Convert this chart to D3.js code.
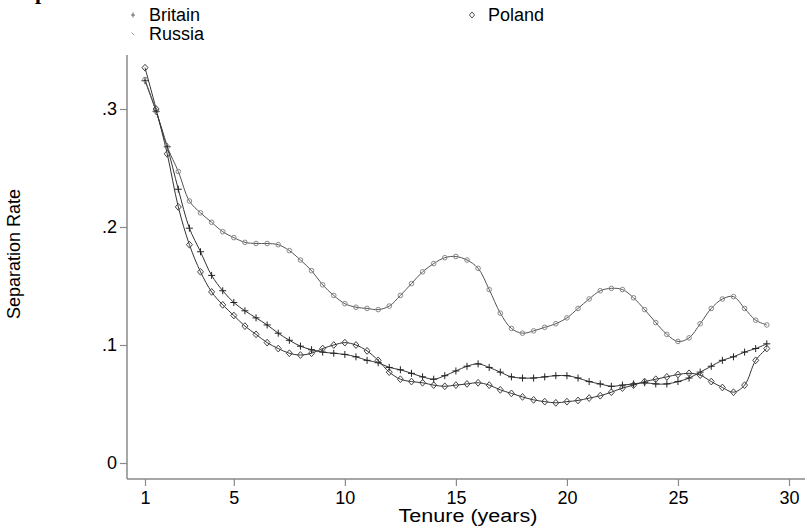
<!DOCTYPE html>
<html>
<head>
<meta charset="utf-8">
<script src="https://cdn.jsdelivr.net/npm/d3@7"></script>
<style>
  body { margin: 0; background: #fff; }
  svg text { font-family: "Liberation Sans", Arial, sans-serif; }
</style>
</head>
<body>
<div id="chart"></div>
<script>
// tenure in years, read every half year off the picture
const tenure = [1,1.5,2,2.5,3,3.5,4,4.5,5,5.5,6,6.5,7,7.5,8,8.5,9,9.5,10,10.5,
  11,11.5,12,12.5,13,13.5,14,14.5,15,15.5,16,16.5,17,17.5,18,18.5,19,19.5,20,20.5,
  21,21.5,22,22.5,23,23.5,24,24.5,25,25.5,26,26.5,27,27.5,28,28.5,29];

const britain = [.324,.298,.268,.232,.199,.179,.159,.146,.136,.129,
  .123,.117,.110,.104,.099,.096,.094,.093,.092,.090,
  .087,.085,.081,.079,.076,.073,.071,.074,.078,.082,
  .084,.081,.077,.073,.072,.072,.073,.074,.074,.072,
  .069,.067,.065,.066,.067,.068,.067,.067,.069,.072,
  .077,.082,.087,.090,.094,.097,.101];

const russia = [.325,.298,.268,.247,.222,.212,.204,.196,.191,.187,
  .186,.186,.185,.180,.172,.163,.151,.142,.135,.132,
  .131,.130,.133,.142,.152,.162,.169,.174,.175,.172,
  .165,.147,.127,.114,.110,.112,.115,.118,.123,.131,
  .139,.146,.148,.147,.140,.130,.119,.109,.103,.106,
  .118,.131,.139,.141,.131,.121,.117];

const poland = [.335,.300,.262,.217,.185,.162,.145,.134,.125,.116,
  .109,.102,.097,.093,.0915,.093,.097,.100,.102,.100,
  .095,.087,.077,.071,.069,.068,.066,.065,.066,.067,
  .068,.066,.062,.059,.056,.0535,.052,.051,.052,.053,
  .055,.057,.060,.0635,.066,.069,.071,.073,.075,.076,
  .0745,.069,.064,.060,.066,.087,.097];

const xTicks = [1,5,10,15,20,25,30];
const yTicks = [0,.1,.2,.3];
const yTickLabels = ['0','.1','.2','.3'];

const seriesNames = ['Britain','Russia','Poland'];
const seriesValues = [britain, russia, poland];

// marker shapes
const plusPath = 'M-3.5,0H3.5M0,-3.5V3.5';
const diamondPath = 'M0,-3.4L3,0L0,3.4L-3,0Z';

class TenureChart {
  svg; chart;
  xScale; yScale;

  constructor(container, width, height){
    this.width = width;
    this.height = height;
    this.svg = d3.select(container)
      .append('svg')
      .attr('width', width)
      .attr('height', height);

    this.xScale = d3.scaleLinear().domain([1, 30]).range([145, 789]);
    this.yScale = d3.scaleLinear().domain([0, .3]).range([463, 109]);
  }

  #axes(){
    const grey = '#8a8a8a';
    // axis lines
    this.svg.append('line')
      .attr('x1', 127).attr('x2', 127).attr('y1', 55).attr('y2', 479)
      .attr('stroke', grey).attr('stroke-width', 1.5);
    this.svg.append('line')
      .attr('x1', 127).attr('x2', 805).attr('y1', 479).attr('y2', 479)
      .attr('stroke', grey).attr('stroke-width', 1.5);

    const yAxis = d3.axisLeft(this.yScale)
      .tickValues(yTicks)
      .tickFormat((d, i) => yTickLabels[i])
      .tickSize(7).tickPadding(3);
    const gy = this.svg.append('g')
      .attr('transform', 'translate(127,0)')
      .call(yAxis);

    const xAxis = d3.axisBottom(this.xScale)
      .tickValues(xTicks)
      .tickSize(7).tickPadding(5);
    const gx = this.svg.append('g')
      .attr('transform', 'translate(0,479)')
      .call(xAxis);

    [gx, gy].forEach(g => {
      g.select('.domain').remove();
      g.selectAll('.tick line').attr('stroke', grey).attr('stroke-width', 1.2);
      g.selectAll('.tick text')
        .attr('fill', '#000')
        .style('font-size', '18px')
        .style('font-family', '"Liberation Sans", Arial, sans-serif');
    });

    this.svg.append('text')
      .attr('transform', 'translate(20,254) rotate(-90)')
      .attr('text-anchor', 'middle')
      .style('font-size', '18px')
      .text('Separation Rate');

    this.svg.append('text')
      .attr('x', 468).attr('y', 522)
      .attr('text-anchor', 'middle')
      .attr('textLength', 139)
      .attr('lengthAdjust', 'spacingAndGlyphs')
      .style('font-size', '18px')
      .text('Tenure (years)');

    // bottom of a cut-off title
    this.svg.append('text')
      .attr('x', 35).attr('y', -1)
      .style('font-family', '"Liberation Serif", serif')
      .style('font-weight', 'bold')
      .style('font-size', '22px')
      .text('p');
  }

  #lines(){
    const line = d3.line()
      .x(d => this.xScale(d[0]))
      .y(d => this.yScale(d[1]))
      .curve(d3.curveCatmullRom.alpha(0.5));

    const data = seriesValues.map(vals => tenure.map((t, i) => [t, vals[i]]));

    this.svg.selectAll('path.series')
      .data(data)
      .join('path')
      .attr('class', 'series')
      .attr('fill', 'none')
      .attr('stroke', (d, i) => i === 1 ? '#555' : '#333')
      .attr('stroke-width', 1)
      .attr('d', line);

    // Britain: plus
    this.svg.append('g').selectAll('path')
      .data(data[0])
      .join('path')
      .attr('transform', d => `translate(${this.xScale(d[0])},${this.yScale(d[1])})`)
      .attr('d', plusPath)
      .attr('stroke', '#222').attr('stroke-width', 1);

    // Russia: small circles
    this.svg.append('g').selectAll('circle')
      .data(data[1])
      .join('circle')
      .attr('cx', d => this.xScale(d[0]))
      .attr('cy', d => this.yScale(d[1]))
      .attr('r', 2.3)
      .attr('fill', 'none')
      .attr('stroke', '#888').attr('stroke-width', 1);

    // Poland: hollow diamonds
    this.svg.append('g').selectAll('path')
      .data(data[2])
      .join('path')
      .attr('transform', d => `translate(${this.xScale(d[0])},${this.yScale(d[1])})`)
      .attr('d', diamondPath)
      .attr('fill', 'none')
      .attr('stroke', '#444').attr('stroke-width', 1);
  }

  #legend(){
    const items = [
      {name: seriesNames[0], x: 133, y: 21, mark: 'plus'},
      {name: seriesNames[1], x: 133, y: 40, mark: 'circle'},
      {name: seriesNames[2], x: 472, y: 21, mark: 'diamond'}
    ];
    const g = this.svg.append('g');
    items.forEach(it => {
      if (it.mark === 'plus') {
        g.append('path').attr('d', 'M-2,0H2M0,-2.5V2.5')
          .attr('transform', `translate(${it.x},${it.y - 6})`)
          .attr('stroke', '#666').attr('stroke-width', 1);
      } else if (it.mark === 'circle') {
        g.append('path').attr('d', 'M-1.5,-1.5L1,1')
          .attr('transform', `translate(${it.x},${it.y - 6})`)
          .attr('stroke', '#999').attr('stroke-width', 1);
      } else {
        g.append('path').attr('d', 'M0,-3L2.6,0L0,3L-2.6,0Z')
          .attr('transform', `translate(${it.x},${it.y - 6})`)
          .attr('fill', 'none')
          .attr('stroke', '#555').attr('stroke-width', 1);
      }
      g.append('text')
        .attr('x', it.x + 16).attr('y', it.y)
        .style('font-size', '18px')
        .text(it.name);
    });
  }

  render(){
    this.#axes();
    this.#lines();
    this.#legend();
    return this;
  }
}

new TenureChart('#chart', 807, 530).render();
</script>
</body>
</html>
